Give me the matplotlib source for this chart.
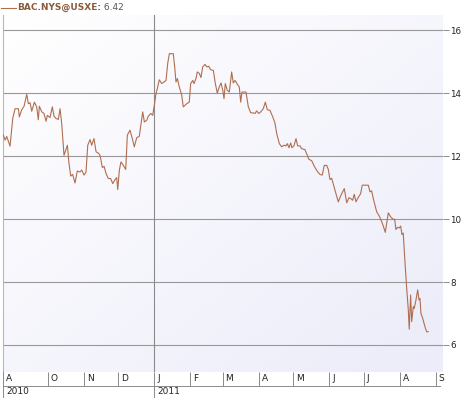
import matplotlib
matplotlib.use('Agg')
import numpy as np
import pandas as pd
import matplotlib.pyplot as plt
import matplotlib.dates as mdates
from matplotlib.lines import Line2D
import matplotlib.transforms as mtransforms

# days counted from 2011-01-01, closing price
days = [-130.4, -128.9, -127.5, -124.6, -122.3, -120.3, -117.4, -116.6, -114.5, -112.5,
        -110.2, -108.8, -107.3, -105.9, -103.6, -101.6, -100.2, -99.3, -97.2, -95.3,
        -93.5, -92.4, -90.1, -88.1, -86.6, -84.9, -82.9, -81.4, -80.0, -78.0,
        -76.5, -75.1, -73.7, -72.2, -70.5, -68.5, -66.5, -64.2, -62.7, -60.7,
        -59.0, -57.5, -55.5, -54.1, -52.1, -50.3, -48.4, -46.9, -44.9, -43.4,
        -41.7, -39.7, -37.7, -35.9, -33.9, -32.5, -31.6, -30.2, -28.8, -26.8,
        -24.7, -23.3, -21.0, -19.0, -17.3, -15.2, -13.0, -10.0, -8.6, -6.6,
        -5.2, -3.1, -1.4, 0.0, 1.5, 2.6, 4.3, 6.4, 8.4, 10.1,
        11.6, 13.0, 15.0, 16.4, 17.6, 18.7, 19.9, 21.6, 23.7, 25.0,
        26.5, 28.0, 30.2, 31.4, 33.2, 34.3, 36.0, 37.1, 38.9, 40.3,
        41.8, 43.8, 45.3, 47.0, 48.7, 51.0, 52.7, 54.4, 56.1, 57.6,
        59.1, 60.2, 61.3, 63.0, 64.8, 66.8, 68.2, 69.7, 71.7, 73.4,
        74.6, 75.7, 77.5, 79.2, 81.2, 83.3, 85.0, 87.0, 88.4, 90.2,
        91.9, 94.1, 95.9, 97.6, 99.9, 102.3, 104.2, 105.7, 108.0, 110.0,
        112.0, 113.7, 114.9, 116.3, 117.8, 118.9, 120.6, 122.4, 123.8, 125.8,
        127.3, 130.1, 131.6, 133.6, 135.9, 138.2, 140.8, 143.1, 145.1, 146.8,
        148.9, 150.3, 151.7, 153.2, 155.2, 157.5, 158.9, 161.2, 164.1, 166.2,
        168.1, 169.9, 171.3, 172.7, 174.2, 176.2, 178.2, 179.6, 181.1, 182.8,
        184.8, 186.3, 187.7, 189.1, 192.1, 194.3, 196.4, 197.8, 199.5, 202.1,
        204.2, 206.4, 207.6, 208.7, 210.2, 211.6, 212.8, 213.9, 215.0, 216.5,
        218.0, 219.4, 220.2, 221.4, 222.3, 223.7, 224.5, 226.0, 227.5, 228.6,
        229.5, 230.3, 231.8, 233.8, 235.2, 236.6]

prices = [12.67, 12.51, 12.63, 12.32, 13.20, 13.51, 13.51, 13.25, 13.48, 13.59,
          13.97, 13.67, 13.70, 13.43, 13.72, 13.57, 13.16, 13.59, 13.41, 13.36,
          13.11, 13.30, 13.23, 13.57, 13.27, 13.20, 13.17, 13.51, 13.04, 12.03,
          12.19, 12.35, 11.77, 11.37, 11.42, 11.15, 11.53, 11.50, 11.56, 11.40,
          11.50, 12.35, 12.53, 12.35, 12.56, 12.14, 12.10, 12.03, 11.64, 11.68,
          11.45, 11.29, 11.29, 11.13, 11.26, 11.32, 10.94, 11.56, 11.82, 11.71,
          11.58, 12.67, 12.83, 12.56, 12.30, 12.59, 12.63, 13.41, 13.09, 13.14,
          13.27, 13.36, 13.30, 13.62, 14.00, 14.15, 14.43, 14.31, 14.36, 14.41,
          14.96, 15.26, 15.26, 15.26, 14.84, 14.36, 14.47, 14.20, 13.94, 13.57,
          13.62, 13.67, 13.72, 14.31, 14.41, 14.31, 14.47, 14.68, 14.63, 14.50,
          14.84, 14.92, 14.84, 14.86, 14.75, 14.73, 14.31, 14.01, 14.20, 14.33,
          14.10, 13.83, 14.31, 14.10, 14.04, 14.68, 14.33, 14.41, 14.29, 14.20,
          13.72, 14.04, 14.04, 14.04, 13.57, 13.38, 13.38, 13.36, 13.44, 13.36,
          13.41, 13.51, 13.72, 13.48, 13.46, 13.25, 13.06, 12.72, 12.40, 12.30,
          12.35, 12.33, 12.40, 12.27, 12.42, 12.27, 12.33, 12.56, 12.33, 12.33,
          12.24, 12.21, 12.08, 11.90, 11.86, 11.68, 11.52, 11.42, 11.40, 11.71,
          11.71, 11.58, 11.26, 11.30, 11.03, 10.73, 10.55, 10.76, 10.97, 10.52,
          10.68, 10.65, 10.60, 10.79, 10.55, 10.69, 10.81, 11.08, 11.08, 11.08,
          11.08, 10.87, 10.90, 10.66, 10.23, 10.10, 9.92, 9.78, 9.58, 10.20,
          10.07, 9.99, 10.00, 9.67, 9.74, 9.72, 9.78, 9.51, 9.56, 8.64,
          7.80, 7.11, 6.50, 7.59, 6.74, 7.22, 7.16, 7.43, 7.75, 7.43,
          7.48, 7.00, 6.85, 6.58, 6.42, 6.42]

y_ticks = [6, 8, 10, 12, 14, 16]
month_starts = ['2010-10-01', '2010-11-01', '2010-12-01', '2011-01-01', '2011-02-01',
                '2011-03-01', '2011-04-01', '2011-05-01', '2011-06-01', '2011-07-01',
                '2011-08-01', '2011-09-01']
month_labels = ['O', 'N', 'D', 'J', 'F', 'M', 'A', 'M', 'J', 'J', 'A', 'S']
first_label = 'A'
year_starts = ['2011-01-01']
year_labels = ['2010', '2011']

base = pd.Timestamp('2011-01-01')
dates = base + pd.to_timedelta(days, unit='D')
x_start = base + pd.to_timedelta(-130.7, unit='D')
x_end = base + pd.to_timedelta(249.1, unit='D')
xs_num = mdates.date2num(x_start)

line_color = '#B06E50'
grid_color = '#989898'
axis_color = '#8a8a8a'

W, H = 465, 398
fig = plt.figure(figsize=(W / 100, H / 100), dpi=100)
left, right, top, bottom = 3, 442.7, 15, 371.7
ax = fig.add_axes([left / W, 1 - bottom / H, (right - left) / W, (bottom - top) / H])

ax.plot(dates, prices, color=line_color, lw=0.8, zorder=3)

# soft diagonal background
nx, ny = 200, 200
gx, gy = np.meshgrid(np.linspace(0, 1, nx), np.linspace(1, 0, ny))
g = np.clip((gx + (1 - gy)) / 2, 0, 1)
c0 = np.array([1.0, 1.0, 1.0])
c1 = np.array([236, 236, 250]) / 255
img = c0[None, None, :] * (1 - g[..., None]) + c1[None, None, :] * g[..., None]
ax.imshow(img, extent=[0, 1, 0, 1], transform=ax.transAxes, aspect='auto',
          zorder=0, interpolation='bilinear')

ax.set_xlim(x_start, x_end)
ax.set_ylim(5.15, 16.49)

ax.set_yticks(y_ticks)
ax.yaxis.tick_right()
ax.grid(axis='y', color=grid_color, lw=0.8, zorder=1)
ax.tick_params(axis='y', length=4, width=0.7, color=axis_color, labelsize=6.3,
               pad=1.5, labelcolor='#222222')

for s in ['top', 'right', 'bottom']:
    ax.spines[s].set_visible(False)
ax.spines['left'].set_color('#b8b8b8')
ax.spines['left'].set_linewidth(0.8)

# january divider through the plot
ax.axvline(base, color='#8a8a8a', lw=0.8, zorder=2)

# month row
month_num = mdates.date2num(pd.to_datetime(month_starts))
ax.set_xticks(month_num)
ax.set_xticklabels([])
ax.tick_params(axis='x', length=10, width=0.7, color=axis_color, direction='out')

trans = mtransforms.blended_transform_factory(ax.transData, ax.transAxes)
ax.annotate(first_label, xy=(xs_num, 0), xycoords=trans, xytext=(3, -7),
            textcoords='offset pixels', fontsize=6.5, va='center', ha='left',
            color='#222222', annotation_clip=False)
for d, lab in zip(month_num, month_labels):
    ax.annotate(lab, xy=(d, 0), xycoords=trans, xytext=(3, -7),
                textcoords='offset pixels', fontsize=6.5, va='center', ha='left',
                color='#222222', annotation_clip=False)

# line under months, year row
row_y = 1 - 385.7 / H
fig.add_artist(Line2D([left / W, 440 / W], [row_y, row_y], color=axis_color, lw=0.7))
fig.add_artist(Line2D([left / W, left / W], [0, 1 - bottom / H], color=axis_color, lw=0.7))
year_pos = [xs_num] + list(mdates.date2num(pd.to_datetime(year_starts)))
y0 = (385.7 - bottom) / (bottom - top)
y1 = (398 - bottom) / (bottom - top)
for d, lab in zip(year_pos, year_labels):
    ax.add_line(Line2D([d, d], [-y0, -y1], transform=trans, color=axis_color,
                       lw=0.7, clip_on=False))
    ax.annotate(lab, xy=(d, 0), xycoords=trans, xytext=(3, -20),
                textcoords='offset pixels', fontsize=6.5, va='center', ha='left',
                color='#222222', annotation_clip=False)

# header: legend dash, series name, last value
hy = 1 - 7.5 / H
fig.add_artist(Line2D([0.5 / W, 16 / W], [hy, hy], color=line_color, lw=0.8))
t1 = fig.text(17 / W, hy, 'BAC.NYS@USXE:', fontsize=6.5, fontweight='bold',
              color='#8B5A3C', va='center', ha='left')
ax.annotate(' %.2f' % prices[-1], xy=(1, 0.5), xycoords=t1, va='center', ha='left',
            fontsize=6.5, color='#555555')

ax.set_xlim(x_start, x_end)
ax.set_ylim(5.15, 16.49)

fig.savefig('out.png', dpi=100)
